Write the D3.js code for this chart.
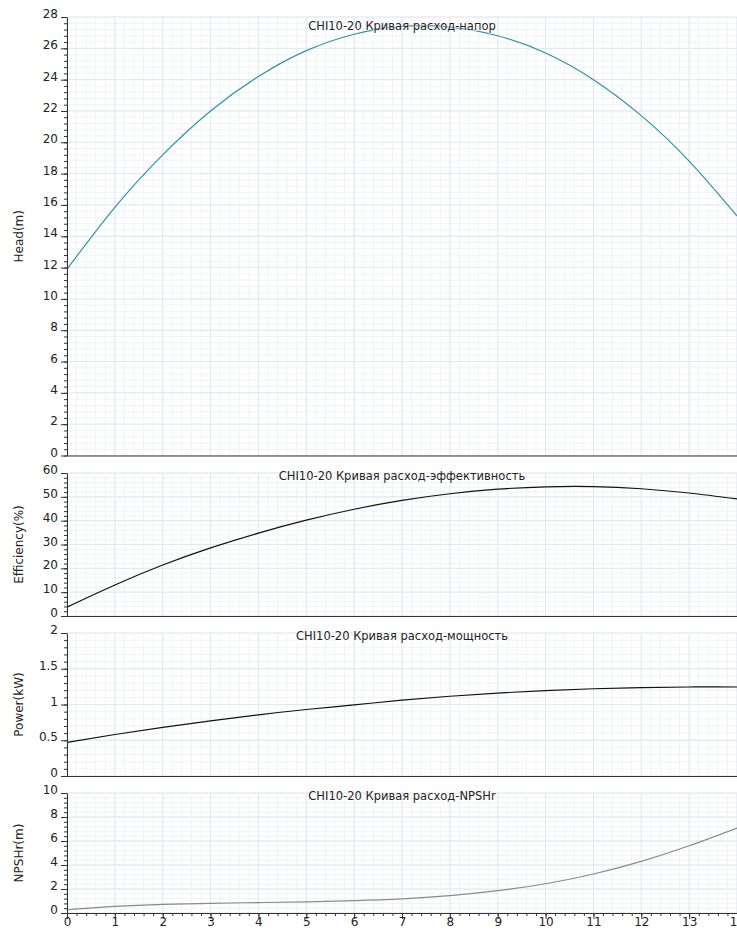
<!DOCTYPE html>
<html lang="ru">
<head>
<meta charset="UTF-8" />
<title>CHI10-20</title>
<script src="https://d3js.org/d3.v7.min.js"></script>
<style>
  body { margin: 0; background: #fff; }
  svg { display: block; font-family: "DejaVu Sans", sans-serif; }
</style>
</head>
<body>
<div id="chart"></div>
<script>
// flow, m3/h
const flow = [0, 1, 2, 3, 4, 5, 6, 7, 8, 9, 10, 11, 12, 13, 14]
const head = [11.9, 15.85, 19.2, 22.0, 24.2, 25.85, 26.9, 27.4, 27.35, 26.8, 25.7, 24.0, 21.7, 18.8, 15.3]
const efficiency = [3.7, 13.0, 21.4, 28.6, 34.8, 40.2, 44.8, 48.5, 51.3, 53.2, 54.2, 54.3, 53.4, 51.6, 49.1]
const power = [0.47, 0.58, 0.68, 0.77, 0.855, 0.93, 0.995, 1.06, 1.115, 1.16, 1.195, 1.22, 1.235, 1.245, 1.245]
const npshr = [0.27, 0.55, 0.72, 0.81, 0.87, 0.93, 1.03, 1.18, 1.45, 1.86, 2.44, 3.25, 4.3, 5.6, 7.08]

const titles = ["CHI10-20 Кривая расход-напор", "CHI10-20 Кривая расход-эффективность",
    "CHI10-20 Кривая расход-мощность", "CHI10-20 Кривая расход-NPSHr"]
const yLabels = ["Head(m)", "Efficiency(%)", "Power(kW)", "NPSHr(m)"]
const yMax = [28, 60, 2, 10]
const yStep = [2, 10, 0.5, 2]

const width = 737, height = 930
const left = 67, right = 737

const panels = [
    { values: head, top: 17, bottom: 455.5, color: "#2a93ad", tb: 29.5 },
    { values: efficiency, top: 473, bottom: 616, color: "#111", tb: 480 },
    { values: power, top: 633, bottom: 776, color: "#111", tb: 640 },
    { values: npshr, top: 793, bottom: 913, color: "#8a8a8a", tb: 800 }
]

const x = d3.scaleLinear().domain([0, 14]).range([left, right])

const svg = d3.select("#chart").append("svg")
    .attr("width", width)
    .attr("height", height)

const xMinor = d3.range(0, 14.001, 0.2)
const xMajor = x.ticks(14)

panels.forEach((p, k) => {
    const y = d3.scaleLinear().domain([0, yMax[k]]).range([p.bottom, p.top])
    const yMajor = d3.range(0, yMax[k] + 1e-9, yStep[k])
    const yMinor = d3.range(0, yMax[k] + 1e-9, yStep[k] / 5)

    const g = svg.append("g")

    // grid
    g.append("g").selectAll("line").data(xMinor).join("line")
        .attr("x1", d => x(d)).attr("x2", d => x(d))
        .attr("y1", p.top).attr("y2", p.bottom)
        .attr("stroke", "#f0f3f8")
    g.append("g").selectAll("line").data(yMinor).join("line")
        .attr("x1", left).attr("x2", right)
        .attr("y1", d => y(d)).attr("y2", d => y(d))
        .attr("stroke", "#f0f3f8")
    g.append("g").selectAll("line").data(xMajor).join("line")
        .attr("x1", d => x(d)).attr("x2", d => x(d))
        .attr("y1", p.top).attr("y2", p.bottom)
        .attr("stroke", "#e2e7f1")
    g.append("g").selectAll("line").data(yMajor).join("line")
        .attr("x1", left).attr("x2", right)
        .attr("y1", d => y(d)).attr("y2", d => y(d))
        .attr("stroke", "#e2e7f1")

    // curve
    const line = d3.line()
        .x((d, i) => x(flow[i]))
        .y(d => y(d))
        .curve(d3.curveNatural)
    g.append("path")
        .datum(p.values)
        .attr("fill", "none")
        .attr("stroke", p.color)
        .attr("stroke-width", 1.2)
        .attr("d", line)

    // title
    g.append("text")
        .attr("x", (left + right) / 2)
        .attr("y", p.tb)
        .attr("text-anchor", "middle")
        .attr("font-size", 11.5)
        .attr("fill", "#222")
        .attr("stroke", "#fff")
        .attr("stroke-width", 1.5)
        .attr("stroke-opacity", 0.7)
        .attr("paint-order", "stroke")
        .text(titles[k])

    // y axis
    g.append("g")
        .attr("transform", `translate(${left},0)`)
        .call(d3.axisLeft(y).tickValues(yMinor).tickSize(3).tickFormat(""))
        .call(a => a.select(".domain").remove())
        .call(a => a.selectAll("line").attr("stroke", "#333"))
    g.append("g")
        .attr("transform", `translate(${left},0)`)
        .call(d3.axisLeft(y).tickValues(yMajor).tickSize(6).tickSizeOuter(0).tickPadding(3)
            .tickFormat(d3.format("~g")))
        .call(a => a.select(".domain").attr("stroke", "#333"))
        .call(a => a.selectAll("line").attr("stroke", "#333"))
        .call(a => a.selectAll("text")
            .attr("font-size", 12)
            .attr("font-family", "DejaVu Sans")
            .attr("fill", "#222")
            .attr("dy", "0.05em"))

    // bottom line
    g.append("line")
        .attr("x1", left).attr("x2", right)
        .attr("y1", p.bottom + 0.5).attr("y2", p.bottom + 0.5)
        .attr("stroke", "#333")
        .attr("stroke-width", 1.2)

    // y label
    g.append("text")
        .attr("transform", `translate(23,${(p.top + p.bottom) / 2}) rotate(-90)`)
        .attr("text-anchor", "middle")
        .attr("font-size", 12)
        .attr("fill", "#222")
        .text(yLabels[k])

    // x axis on last panel
    if (k === panels.length - 1) {
        g.append("g")
            .attr("transform", `translate(0,${p.bottom})`)
            .call(d3.axisBottom(x).tickValues(xMinor).tickSize(3).tickFormat(""))
            .call(a => a.select(".domain").remove())
            .call(a => a.selectAll("line").attr("stroke", "#333"))
        g.append("g")
            .attr("transform", `translate(0,${p.bottom})`)
            .call(d3.axisBottom(x).tickValues(xMajor).tickSize(6).tickSizeOuter(0).tickPadding(-2))
            .call(a => a.select(".domain").attr("stroke", "#333"))
            .call(a => a.selectAll("line").attr("stroke", "#333"))
            .call(a => a.selectAll("text")
                .attr("font-size", 12)
                .attr("font-family", "DejaVu Sans")
                .attr("fill", "#222"))
    }
})
</script>
</body>
</html>
